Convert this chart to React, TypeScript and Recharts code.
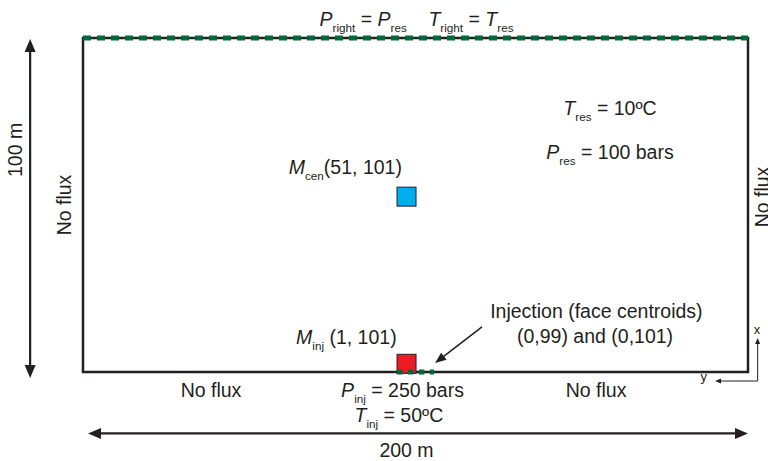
import React from "react";
import {
  ComposedChart,
  XAxis,
  YAxis,
  Scatter,
  ReferenceArea,
  ReferenceLine,
  ReferenceDot,
} from "recharts";

// model domain, metres
const domainY = [0, 200];
const domainX = [0, 100];

// monitoring cells (blue = centre, red = injection)
const cellNames = ["M_cen", "M_inj"];
const cellY = [97.3, 97.3];
const cellX = [52.5, 2.45];
const cellColors = ["#00aeef", "#ed1c24"];

// injection faces on the bottom boundary
const injectionFaces = [94.4, 105.6];

// annotation anchors in model metres; {..} = italic symbol, [..] = subscript
const labelText = [
  "{P}[right] = {P}[res]    {T}[right] = {T}[res]",
  "{T}[res] = 10ºC",
  "{P}[res] = 100 bars",
  "{M}[cen](51, 101)",
  "{M}[inj] (1, 101)",
  "Injection (face centroids)",
  "(0,99) and (0,101)",
  "No flux",
  "{P}[inj] = 250 bars",
  "{T}[inj] = 50ºC",
  "No flux",
  "200 m",
  "x",
  "y",
  "100 m",
  "No flux",
  "No flux",
];
const labelAtY = [100.3, 158.5, 158.5, 78.9, 79.2, 154.4, 154.0, 38.5, 96.1, 95.0, 154.3, 97.3, 202.7, 186.7, -18.3, -3.6, 206.3];
const labelAtX = [103.6, 76.9, 63.8, 59.3, 8.4, 16.2, 8.7, -7.5, -7.5, -14.9, -7.5, -25.4, 11.4, -2.7, 66.5, 50, 52.4];
const labelRotated = [false, false, false, false, false, false, false, false, false, false, false, false, false, false, true, true, true];
const labelSmall = [false, false, false, false, false, false, false, false, false, false, false, false, true, true, false, false, false];

const INK = "#231f20";
const GREEN = "#00693a";
const FONT = "'Liberation Sans', Arial, Helvetica, sans-serif";

const cells = cellNames.map((name, i) => ({ name, y: cellY[i], x: cellX[i], fill: cellColors[i] }));
const injection = injectionFaces.map((y) => ({ y, x: 0 }));

function parseMarkup(s: string) {
  return s
    .split(/(\{[^}]*\}|\[[^\]]*\])/)
    .filter((t) => t.length > 0)
    .map((t) => {
      if (t.startsWith("{")) return { kind: "it", text: t.slice(1, -1) };
      if (t.startsWith("[")) return { kind: "sub", text: t.slice(1, -1) };
      return { kind: "n", text: t };
    });
}

function RichText({ x, y, markup, size, rotate }: any) {
  const segs = parseMarkup(markup);
  let shift = 0;
  return (
    <text
      x={x}
      y={y}
      textAnchor="middle"
      fontFamily={FONT}
      fontSize={size}
      fill={INK}
      style={{ whiteSpace: "pre" }}
      transform={rotate ? `rotate(-90 ${x} ${y})` : undefined}
    >
      {segs.map((s, i) => {
        const target = s.kind === "sub" ? size * 0.3 : 0;
        const dy = target - shift;
        shift = target;
        return (
          <tspan
            key={i}
            dy={dy !== 0 ? dy : undefined}
            fontStyle={s.kind === "it" ? "italic" : undefined}
            fontSize={s.kind === "sub" ? size * 0.6 : undefined}
          >
            {s.text}
          </tspan>
        );
      })}
    </text>
  );
}

const arrow = (start: boolean, end: boolean, width: number, len: number, half: number) => (p: any) => {
  const { x1, y1, x2, y2 } = p;
  const dx = x2 - x1;
  const dy = y2 - y1;
  const d = Math.sqrt(dx * dx + dy * dy) || 1;
  const ux = dx / d;
  const uy = dy / d;
  const head = (tx: number, ty: number, sx: number, sy: number) => {
    const bx = tx - sx * len;
    const by = ty - sy * len;
    return `${tx},${ty} ${bx - sy * half},${by + sx * half} ${bx + sy * half},${by - sx * half}`;
  };
  const ax = start ? x1 + ux * len * 0.8 : x1;
  const ay = start ? y1 + uy * len * 0.8 : y1;
  const bx = end ? x2 - ux * len * 0.8 : x2;
  const by = end ? y2 - uy * len * 0.8 : y2;
  return (
    <g>
      <line x1={ax} y1={ay} x2={bx} y2={by} stroke={INK} strokeWidth={width} />
      {start && <polygon points={head(x1, y1, -ux, -uy)} fill={INK} />}
      {end && <polygon points={head(x2, y2, ux, uy)} fill={INK} />}
    </g>
  );
};

const App: React.FC = () => {
  return (
    <div style={{ position: "absolute", left: 0, top: 0, background: "#fff" }}>
      <ComposedChart width={768} height={461} data={cells} margin={{ top: 38, right: 20, bottom: 89, left: 83 }}>
        <XAxis type="number" dataKey="y" domain={domainY} hide />
        <YAxis type="number" dataKey="x" domain={domainX} hide />
        <ReferenceArea
          x1={domainY[0]}
          x2={domainY[1]}
          y1={domainX[0]}
          y2={domainX[1]}
          fill="none"
          stroke={INK}
          strokeWidth={2.5}
        />
        <Scatter
          data={cells}
          isAnimationActive={false}
          shape={(p: any) => (
            <rect x={p.cx - 9.5} y={p.cy - 9.5} width={19} height={19} fill={p.payload.fill} stroke={INK} strokeWidth={1} />
          )}
        />
        {/* injection faces, drawn over the red cell */}
        <Scatter
          data={injection}
          isAnimationActive={false}
          line={{ stroke: GREEN, strokeWidth: 5, strokeDasharray: "5.5 5.5" }}
          shape={() => <g />}
        />
        {/* fixed pressure / temperature boundary */}
        <ReferenceLine y={domainX[1]} stroke={GREEN} strokeWidth={5} strokeDasharray="8 6" />
        {/* dimension arrows */}
        <ReferenceLine
          ifOverflow="visible"
          segment={[
            { x: -15.9, y: 99.7 },
            { x: -15.9, y: -1.8 },
          ]}
          shape={arrow(true, true, 2.2, 13, 5.5)}
        />
        <ReferenceLine
          ifOverflow="visible"
          segment={[
            { x: 1.5, y: -18.4 },
            { x: 200, y: -18.4 },
          ]}
          shape={arrow(true, true, 2.2, 13, 5.5)}
        />
        <ReferenceLine
          ifOverflow="visible"
          segment={[
            { x: 120.0, y: 13.5 },
            { x: 105.9, y: 2.7 },
          ]}
          shape={arrow(false, true, 1.5, 11, 4.5)}
        />
        {/* axes orientation */}
        <ReferenceLine
          ifOverflow="visible"
          segment={[
            { x: 202.9, y: -2.7 },
            { x: 202.9, y: 10.2 },
          ]}
          shape={arrow(false, true, 1, 6, 2.5)}
        />
        <ReferenceLine
          ifOverflow="visible"
          segment={[
            { x: 202.9, y: -2.7 },
            { x: 190.1, y: -2.7 },
          ]}
          shape={arrow(false, true, 1, 6, 2.5)}
        />
        {labelText.map((t, i) => (
          <ReferenceDot
            key={i}
            x={labelAtY[i]}
            y={labelAtX[i]}
            r={0}
            ifOverflow="visible"
            shape={(p: any) => (
              <RichText x={p.cx} y={p.cy} markup={t} size={labelSmall[i] ? 13 : 19.5} rotate={labelRotated[i]} />
            )}
          />
        ))}
      </ComposedChart>
    </div>
  );
};

export default App;
